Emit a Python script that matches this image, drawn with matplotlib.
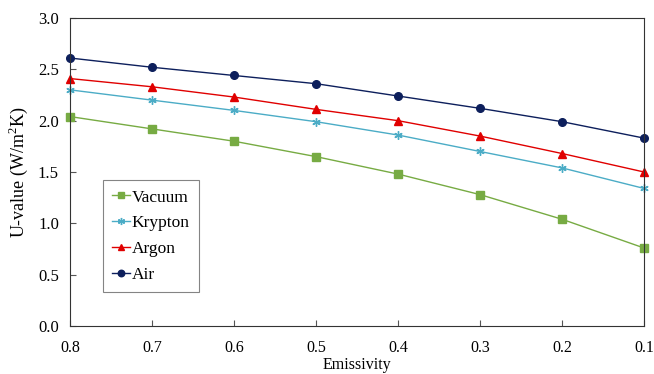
import matplotlib
matplotlib.use('Agg')
import matplotlib.pyplot as plt

plt.rcParams['font.family'] = ['Liberation Serif', 'DejaVu Serif']
plt.rcParams['mathtext.fontset'] = 'custom'
plt.rcParams['mathtext.rm'] = 'Liberation Serif'

# Emissivity values (x axis runs from 0.8 down to 0.1)
emissivity = [0.8, 0.7, 0.6, 0.5, 0.4, 0.3, 0.2, 0.1]

# U-values
vacuum = [2.04, 1.92, 1.80, 1.65, 1.48, 1.28, 1.04, 0.76]
krypton = [2.30, 2.20, 2.10, 1.99, 1.86, 1.70, 1.54, 1.34]
argon = [2.41, 2.33, 2.23, 2.11, 2.00, 1.85, 1.68, 1.50]
air = [2.61, 2.52, 2.44, 2.36, 2.24, 2.12, 1.99, 1.83]

fig = plt.figure(figsize=(6.54, 3.74), dpi=100)
ax = fig.add_axes([0.107, 0.128, 0.878, 0.824])

ax.plot(emissivity, vacuum, color='#77ab43', marker='s', markersize=5.5, lw=1, label='Vacuum', clip_on=False)
ax.plot(emissivity, krypton, color='#4bacc6', marker=(6, 2, 0), markersize=6, mew=1, lw=1, label='Krypton', clip_on=False)
ax.plot(emissivity, argon, color='#e00000', marker='^', markersize=5.5, lw=1, label='Argon', clip_on=False)
ax.plot(emissivity, air, color='#0d1f5c', marker='o', markersize=5.5, lw=1, label='Air', clip_on=False)

ax.set_xlim(0.8, 0.1)
ax.set_ylim(0, 3.0)
ax.set_xticks(emissivity)
ax.set_xticklabels(['%.1f' % e for e in emissivity])
yt = [0, 0.5, 1.0, 1.5, 2.0, 2.5, 3.0]
ax.set_yticks(yt)
ax.set_yticklabels(['%.1f' % v for v in yt])
ax.tick_params(direction='in', length=4, color='#555555')
ax.tick_params(axis='x', labelsize=11.5, pad=10)
ax.tick_params(axis='y', labelsize=12, pad=8)

for s in ax.spines.values():
    s.set_color('#333333')

ax.set_xlabel('Emissivity', fontsize=11.5, labelpad=1)
ax.set_ylabel('U-value (W/m$^{2}$K)', fontsize=13, labelpad=6)

leg = ax.legend(loc='lower left', bbox_to_anchor=(0.057, 0.11), fontsize=12.5,
                frameon=True, fancybox=False, edgecolor='#666666',
                handlelength=1.0, handletextpad=0.1, labelspacing=0.55,
                borderpad=0.55, borderaxespad=0, markerscale=0.85)
leg.get_frame().set_linewidth(0.8)

plt.savefig('out.png', dpi=100)
